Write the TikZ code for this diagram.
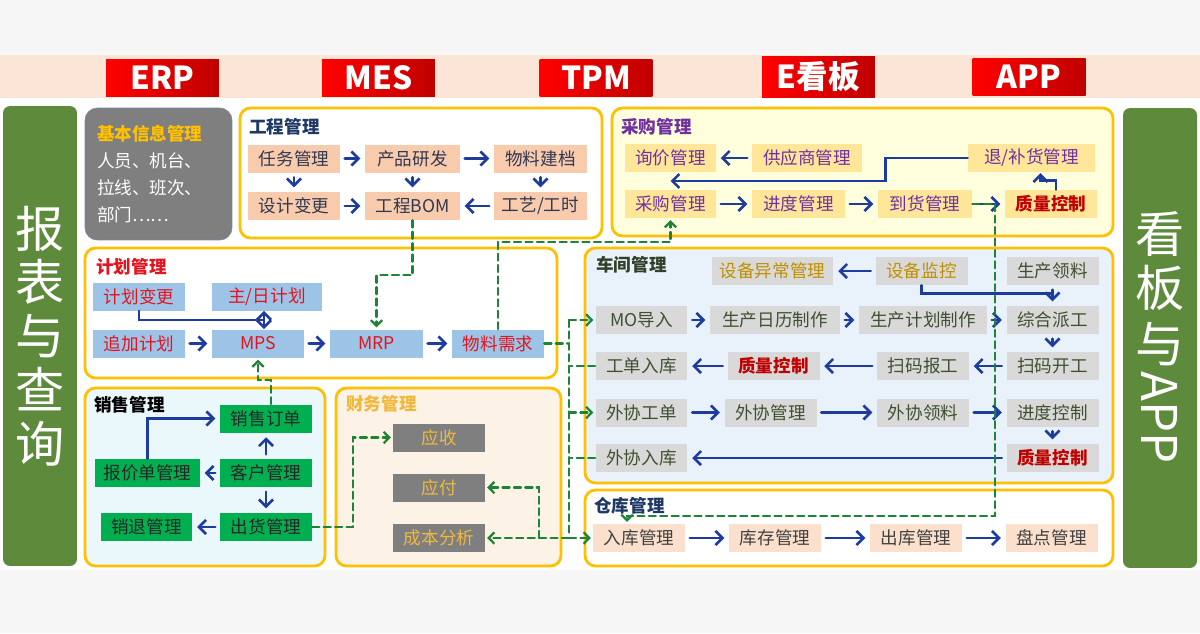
\documentclass[tikz,border=0pt]{standalone}
\usepackage{fontspec}
\setmainfont{Noto Sans CJK SC}
\usepackage{graphicx}
\usepackage{tikz}
\usetikzlibrary{calc,arrows.meta}

\definecolor{lan}{RGB}{30,60,160}
\definecolor{lv}{RGB}{30,130,55}
\definecolor{huang}{RGB}{255,192,0}
\definecolor{gcfill}{RGB}{248,203,173}
\definecolor{gctext}{RGB}{50,56,80}
\definecolor{cgfill}{RGB}{255,230,153}
\definecolor{cgback}{RGB}{255,255,222}
\definecolor{zi}{RGB}{112,48,160}
\definecolor{hong}{RGB}{192,0,0}
\definecolor{jhfill}{RGB}{157,195,230}
\definecolor{jhtext}{RGB}{228,20,30}
\definecolor{cjback}{RGB}{233,241,251}
\definecolor{cjfill}{RGB}{217,217,217}
\definecolor{cjtext}{RGB}{62,80,48}
\definecolor{jin}{RGB}{191,144,0}
\definecolor{ckfill}{RGB}{251,225,205}
\definecolor{xsback}{RGB}{234,248,252}
\definecolor{xsfill}{RGB}{0,176,80}
\definecolor{cwback}{RGB}{253,242,230}
\definecolor{hui}{RGB}{127,127,127}
\definecolor{cwtext}{RGB}{240,185,60}
\definecolor{senlv}{RGB}{94,139,59}
\definecolor{fen}{RGB}{251,229,214}
\definecolor{dise}{RGB}{246,246,246}
\definecolor{zang}{RGB}{31,56,100}

\begin{document}
\begin{tikzpicture}[x=0.02cm,y=-0.02cm,line cap=round]
	\tikzstyle{panel}=[draw=huang,line width=1.6pt,rounded corners=6pt];
	\tikzstyle{kuang}=[minimum width=1.84cm,minimum height=0.56cm,inner sep=1pt,font=\fontsize{10}{12}\selectfont];
	\tikzstyle{gc}=[kuang,fill=gcfill,text=gctext];
	\tikzstyle{cg}=[kuang,fill=cgfill,text=zi];
	\tikzstyle{jh}=[kuang,fill=jhfill,text=jhtext];
	\tikzstyle{cj}=[kuang,fill=cjfill,text=cjtext];
	\tikzstyle{ck}=[kuang,fill=ckfill,text=black!75];
	\tikzstyle{xs}=[kuang,fill=xsfill,text=black!85];
	\tikzstyle{cw}=[kuang,fill=hui,text=cwtext];
	\tikzstyle{zk}=[text=hong,font=\fontsize{10}{12}\selectfont\bfseries];
	\tikzstyle{biaoti}=[anchor=west,inner sep=0pt,font=\fontsize{10}{12}\selectfont\bfseries];
	\tikzstyle{biaoqian}=[minimum width=2.26cm,minimum height=0.74cm,left color=red,right color=hong,text=white,font=\fontsize{18}{20}\selectfont\bfseries];
	\tikzstyle{ce}=[fill=senlv,rounded corners=4pt,text=white,minimum width=1.48cm,minimum height=9.2cm,align=center,font=\fontsize{28}{30.6}\selectfont];
	\tikzstyle{jian}=[draw=lan,line width=1.5pt,-{Straight Barb[length=4pt,width=8pt]},shorten <=2.5pt,shorten >=2.5pt];
	\tikzstyle{xu}=[draw=lv,line width=1.3pt,dash pattern=on 4pt off 2.5pt,-{Straight Barb[length=3.2pt,width=6.5pt]},shorten >=1pt];

	% background
	\fill[dise] (0,0) rectangle (1200,633);
	\fill[fen] (0,55) rectangle (1200,98);
	\fill[white] (0,98) rectangle (1200,570);
	\useasboundingbox (0,0) rectangle (1200,633);

	\node[biaoqian] (erp) at (162.5,77.5) {ERP};
	\node[biaoqian] (mes) at (378.5,77.5) {MES};
	\node[biaoqian] (tpm) at (596,77.5) {TPM};
	\node[biaoqian] (ekb) at (818.5,77) {E看板};
	\node[biaoqian] (app) at (1029,76.5) {APP};

	\node[ce] (bbcx) at (40,336) {报\\表\\与\\查\\询};
	\node[ce] (kbapp) at (1160,338) {\raisebox{-7pt}{看}\\\raisebox{-7pt}{板}\\\raisebox{-8pt}{与}\\[-17pt]\rotatebox{-90}{APP}};

	\node[fill=hui,draw=zang!60,rounded corners=7pt,minimum width=2.94cm,minimum height=2.64cm,text width=2.46cm,align=left,text=white,font=\fontsize{10}{15.3}\selectfont] (jbxx) at (158.5,174) {\textcolor{huang}{\bfseries 基本信息管理}\\人员、机台、\\拉线、班次、\\部门……};

	% 工程管理
	\draw[panel,fill=white] (240,108) rectangle (602,238);
	\node[biaoti,text=zang] (gcgl) at (249,127) {工程管理};
	\node[gc] (rw) at (294,158.5) {任务管理};
	\node[gc,minimum width=1.9cm] (cp) at (412.5,158.5) {产品研发};
	\node[gc,minimum width=1.86cm] (wl) at (540.5,158.5) {物料建档};
	\node[gc] (sj) at (294,206) {设计变更};
	\node[gc,minimum width=1.9cm] (bom) at (412.5,206) {工程BOM};
	\node[gc,minimum width=1.86cm] (gy) at (540.5,206) {工艺/工时};
	\draw[jian] (rw) -- (cp);
	\draw[jian] (cp) -- (wl);
	\draw[jian] (rw) -- (sj);
	\draw[jian] (cp) -- (bom);
	\draw[jian] (wl) -- (gy);
	\draw[jian] (sj) -- (bom);
	\draw[jian] (gy) -- (bom);

	% 采购管理
	\draw[panel,fill=cgback] (612,108) rectangle (1113,236);
	\node[biaoti,text=zi] (cggl) at (621,127) {采购管理};
	\node[cg,minimum width=1.82cm] (xj) at (670.5,158) {询价管理};
	\node[cg,minimum width=2.2cm] (gys) at (807,158) {供应商管理};
	\node[cg,minimum width=2.54cm] (th) at (1031.5,158) {退/补货管理};
	\node[cg,minimum width=1.82cm] (cgd) at (670.5,204) {采购管理};
	\node[cg,minimum width=1.86cm] (jd) at (798.5,204) {进度管理};
	\node[cg,minimum width=1.88cm] (dh) at (925,204) {到货管理};
	\node[cg,zk] (zl) at (1051,204) {质量控制};
	\coordinate (xc) at ($(xj.south)!0.5!(cgd.north)$);
	\draw[jian] (gys) -- (xj);
	\draw[jian,shorten <=0pt,shorten >=0pt] (th.west) -- ++(-82,0) |- (xc);
	\draw[jian] (cgd) -- (jd);
	\draw[jian] (jd) -- (dh);
	\draw[jian] (dh) -- (zl);
	\draw[jian,shorten <=0pt,shorten >=0.5pt] ($(zl.north)+(5,0)$) |- ($(th.south)+(9,8)$) -- ($(th.south)+(9,0)$);

	% 计划管理
	\draw[panel,fill=white] (85,248) rectangle (557,378);
	\node[biaoti,text=jhtext] (jhgl) at (96,267) {计划管理};
	\node[jh] (jhbg) at (139,296.5) {计划变更};
	\node[jh,minimum width=2.2cm] (zr) at (267,296.5) {主/日计划};
	\node[jh] (zj) at (139,343.5) {追加计划};
	\node[jh] (mps) at (258,343.5) {MPS};
	\node[jh,minimum width=1.86cm] (mrp) at (376.5,343.5) {MRP};
	\node[jh] (wlxq) at (498,343.5) {物料需求};
	\draw[jian] (zj) -- (mps);
	\draw[jian] (mps) -- (mrp);
	\draw[jian] (mrp) -- (wlxq);
	\coordinate (jhj) at (264,320);
	\draw[jian,shorten <=0pt,shorten >=0pt] (jhbg.south) |- (jhj) -- (jhj |- zr.south);
	\draw[jian,shorten <=0pt,shorten >=0pt] (jhj) -- (jhj |- mps.north);

	% 车间管理
	\draw[panel,fill=cjback] (585,248) rectangle (1113,483);
	\node[biaoti,text=cjtext!80!black] (cjgl) at (596,265) {车间管理};
	\node[cj,minimum width=2.44cm,text=jin] (sbyc) at (772.5,271) {设备异常管理};
	\node[cj,text=jin] (sbjk) at (921.5,271) {设备监控};
	\node[cj] (scll) at (1052.5,271) {生产领料};
	\node[cj] (mo) at (641.5,320) {MO导入};
	\node[cj,minimum width=2.6cm] (scrl) at (775,320) {生产日历制作};
	\node[cj,minimum width=2.56cm] (scjh) at (923,320) {生产计划制作};
	\node[cj] (zhpg) at (1052.5,320) {综合派工};
	\node[cj] (gdrk) at (641.5,366) {工单入库};
	\node[cj,zk] (zl2) at (773.5,366) {质量控制};
	\node[cj] (smbg) at (923,366) {扫码报工};
	\node[cj] (smkg) at (1052.5,366) {扫码开工};
	\node[cj] (wxgd) at (641.5,412.5) {外协工单};
	\node[cj] (wxgl) at (770.5,412.5) {外协管理};
	\node[cj] (wxll) at (923,412.5) {外协领料};
	\node[cj] (jdkz) at (1052.5,412.5) {进度控制};
	\node[cj] (wxrk) at (641.5,458) {外协入库};
	\node[cj,zk] (zl3) at (1052.5,458) {质量控制};
	\draw[jian] (sbjk) -- (sbyc);
	\draw[jian] (scll) -- (zhpg);
	\draw[draw=lan,line width=1.5pt] (sbjk.south) |- ($(scll.south)!0.4!(zhpg.north)$);
	\draw[jian] (mo) -- (scrl);
	\draw[jian] (scrl) -- (scjh);
	\draw[jian] (scjh) -- (zhpg);
	\draw[jian] (zhpg) -- (smkg);
	\draw[jian] (smkg) -- (smbg);
	\draw[jian] (smbg) -- (zl2);
	\draw[jian] (zl2) -- (gdrk);
	\draw[jian] (wxgd) -- (wxgl);
	\draw[jian] (wxgl) -- (wxll);
	\draw[jian] (wxll) -- (jdkz);
	\draw[jian] (jdkz) -- (zl3);
	\draw[jian] (zl3) -- (wxrk);

	% 仓库管理
	\draw[panel,fill=white] (585,490) rectangle (1113,566);
	\node[biaoti,text=zang] (ckgl) at (594,506) {仓库管理};
	\node[ck] (rk) at (639,538) {入库管理};
	\node[ck] (kc) at (775,538) {库存管理};
	\node[ck] (ckd) at (916,538) {出库管理};
	\node[ck] (pd) at (1051.5,538) {盘点管理};
	\draw[jian] (rk) -- (kc);
	\draw[jian] (kc) -- (ckd);
	\draw[jian] (ckd) -- (pd);

	% 销售管理
	\draw[panel,fill=xsback] (85,388) rectangle (325,566);
	\node[biaoti,text=black] (xsgl) at (94,405) {销售管理};
	\node[xs] (xsdd) at (266,418.5) {销售订单};
	\node[xs,minimum width=2.1cm] (bjd) at (147.5,473) {报价单管理};
	\node[xs] (kh) at (266,473) {客户管理};
	\node[xs] (xt) at (146.5,527) {销退管理};
	\node[xs] (ch) at (266,527) {出货管理};
	\draw[jian,shorten <=0pt] (bjd.north) |- (xsdd.west);
	\draw[jian] (kh) -- (xsdd);
	\draw[jian] (kh) -- (bjd);
	\draw[jian] (kh) -- (ch);
	\draw[jian] (ch) -- (xt);

	% 财务管理
	\draw[panel,fill=cwback] (336,388) rectangle (561,566);
	\node[biaoti,text=cwtext] (cwgl) at (346,404) {财务管理};
	\node[cw] (ys) at (439,437.5) {应收};
	\node[cw] (yf) at (439,487.5) {应付};
	\node[cw] (cb) at (439,538) {成本分析};

	% 数据流
	\draw[xu] (bom.south) -- ++(0,55) -| (mrp.north);
	\draw[xu] (wlxq.north) |- ($(cgd.south)+(0,24)$) -- (cgd.south);
	\coordinate (bt) at (569,320);
	\coordinate (bb) at (569,538);
	\coordinate (cf) at (539,538);
	\draw[xu,-] (wlxq.east) -- (wlxq.east -| bt);
	\draw[xu,-] (bt) -- (bb);
	\draw[xu] (bt) -- (mo.west);
	\draw[xu,-] (gdrk.west) -- (gdrk.west -| bt);
	\draw[xu] (wxgd.west -| bt) -- (wxgd.west);
	\draw[xu,-] (wxrk.west) -- (wxrk.west -| bt);
	\draw[xu] (bb) -- (rk.west);
	\draw[xu] (bb) -- (cb.east);
	\draw[xu] (cf) |- (yf.east);
	\draw[xu] (ch.east) -| ($(ys.west)+(-40,0)$) -- (ys.west);
	\draw[xu] ($(xsdd.north)+(5,0)$) |- ($(mps.south)+(0,22)$) -- (mps.south);
	\coordinate (gz) at (995,516);
	\draw[xu] (dh.east) -| (gz) -| ($(rk.north)+(-12,0)$);
\end{tikzpicture}
\end{document}
